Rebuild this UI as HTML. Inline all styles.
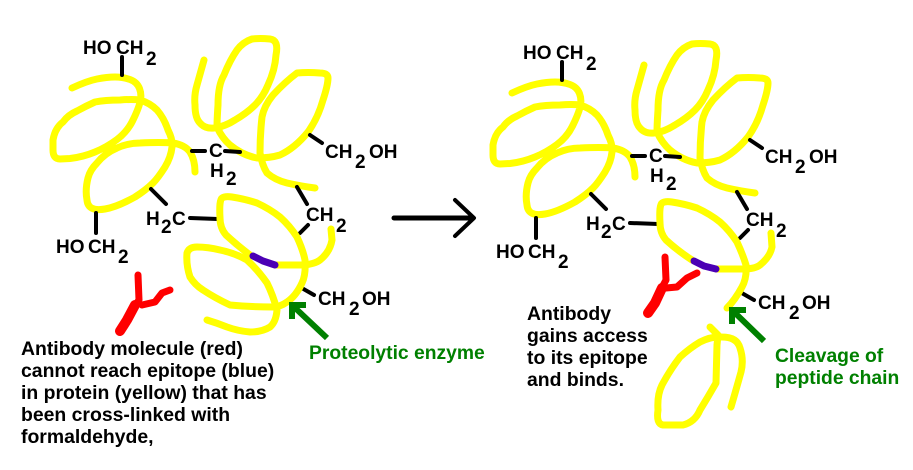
<!DOCTYPE html>
<html><head><meta charset="utf-8"><style>
html,body{margin:0;padding:0;background:#fff;width:913px;height:470px;overflow:hidden}
svg{display:block}
text{font-family:"Liberation Sans",sans-serif;font-weight:bold;font-size:19px;fill:#000}
.t{font-size:19.4px}
.g{fill:#008000;font-size:19.3px}
.y{fill:none;stroke:#ffff00;stroke-width:7;stroke-linecap:round;stroke-linejoin:round}
.k{fill:none;stroke:#000;stroke-width:4;stroke-linecap:round;stroke-linejoin:round}
.r{fill:none;stroke:#ff0000;stroke-width:7;stroke-linecap:round;stroke-linejoin:round}
.b{fill:none;stroke:#4b00b4;stroke-width:7;stroke-linecap:round;stroke-linejoin:round}
.a{fill:none;stroke:#008000;stroke-width:6;stroke-linejoin:miter}
</style></head><body>
<svg width="913" height="470" viewBox="0 0 913 470" xmlns="http://www.w3.org/2000/svg">
<rect width="913" height="470" fill="#fff"/>
<defs>
<g id="top">
<path class="y" d="M72,88 Q87,81 97,79 Q107,77 115,77 Q123,77 130,79.5 Q137,82 139.5,88.5 Q142,95 140,102.5 Q138,110 132.5,121 Q127,132 117,139.5 Q107,147 95,152 Q83,157 70,158.5 L60,159 Q53,159 53,150 L53,140 Q55,128 63,122 Q68,115 77,111 Q86,106 95,102 Q105,100 120,100 Q132,99 140,100 Q150,103 157,110 Q164,118 168,130 Q173,140 172,147 Q171,157 165,167 Q158,178 153,183 Q146,190 135,197 Q117,207 105,209 Q88,212 87,200 Q85,190 88,178 Q90,170 97,163 Q105,153 117,148 Q128,143 140,143 Q160,142 173,143 Q185,145 190,152 Q195,160 195,172"/>
<path class="y" d="M204,60 Q199,78 197,85 Q194,95 195,105 Q195,118 200,123 Q205,129 214,128 Q224,127 235,120 Q247,113 255,105 Q263,97 268,85 Q275,70 276,55 Q279,40 270,39 Q260,38 252,39 Q243,42 237,50 Q230,60 224,75 Q218,85 218,105 Q217,120 217,127 Q222,138 230,145 Q242,155 257,158 Q270,158 280,155 Q295,148 308,132 Q318,118 323,100 Q328,85 328,78 Q328,73 320,73 Q308,72 297,73 Q285,82 273,95 Q264,106 262,117 Q260,135 260,153 Q262,165 267,173 Q275,180 287,183 Q300,186 315,188"/>
<polyline class="k" points="122,57 122,75"/>
<polyline class="k" points="192,151 205,151"/>
<polyline class="k" points="225,151 240,152"/>
<polyline class="k" points="310,135 322,143"/>
<polyline class="k" points="96,213 96,233"/>
<polyline class="k" points="151,189 166,204"/>
<polyline class="k" points="190,218 218,219"/>
<polyline class="k" points="297,187 307,204"/>
<polyline class="k" points="300,233 308,225"/>
<polyline class="k" points="300,287 314,295"/>
</g>
</defs>

<use href="#top"/>
<path class="y" d="M220,218 Q219,200 222,198 Q225,196 232,197 Q245,199 257,203 Q270,209 280,217 Q290,226 297,237 Q303,250 305,260 Q306,275 302,283 Q296,296 287,302 Q280,307 273,307 Q250,307 230,305 Q215,298 203,290 Q195,285 190,277 Q186,265 187,253 Q189,247 197,247 Q208,247 220,250 Q235,253 247,260 Q258,270 267,283 Q273,295 277,310 Q276,322 270,327 Q262,332 250,332 Q238,331 227,327 Q217,323 207,320"/>
<path class="y" d="M220,218 Q220,228 226,235 Q238,246 250,255"/>
<path class="y" d="M277,265 L303,265 Q315,264 320,260 Q330,252 332,240 L331,229"/>
<polyline class="b" points="253,256 263,261 275,265"/>
<polyline class="r" points="138,275 139,300 130,313"/>
<polyline class="r" style="stroke-width:10" points="135,305 127,320 120,331"/>
<polyline class="r" points="170,290 162,293 155,302 142,305"/>
<polyline class="a" points="327,338 292,305"/>
<polyline class="a" points="306,305 292,305 292,319"/>
<polyline class="k" style="stroke-width:5" points="394,218 472,218"/>
<polyline class="k" points="455,200 474,218 455,236"/>

<text x="83" y="54">HO</text><text x="116" y="54">CH</text><text x="146" y="65">2</text>
<text x="209" y="157">C</text><text x="210" y="177">H</text><text x="226" y="185">2</text>
<text x="325" y="158">CH</text><text x="355" y="168">2</text><text x="369" y="158">OH</text>
<text x="146" y="225">H</text><text x="161" y="233">2</text><text x="172" y="225">C</text>
<text x="56" y="253">HO</text><text x="88" y="253">CH</text><text x="118" y="263">2</text>
<text x="306" y="221">CH</text><text x="336" y="232">2</text>
<text x="318" y="305">CH</text><text x="349" y="315">2</text><text x="362" y="305">OH</text>

<text class="t" x="21" y="355">Antibody molecule (red)</text>
<text class="t" x="21" y="377">cannot reach epitope (blue)</text>
<text class="t" x="21" y="399">in protein (yellow) that has</text>
<text class="t" x="21" y="421">been cross-linked with</text>
<text class="t" x="21" y="443">formaldehyde,</text>
<text class="g" x="309" y="359">Proteolytic enzyme</text>

<use href="#top" x="440" y="5"/>
<path class="y" d="M660,223 Q659,205 662,203 Q665,201 672,202 Q685,204 697,208 Q710,214 720,222 Q730,231 737,242 Q743,255 746,265 Q747,278 742,287 Q735,300 727,308"/>
<path class="y" d="M660,223 Q660,233 666,240 Q678,251 692,260"/>
<path class="y" d="M717,269 L743,269 Q755,269 760,265 Q770,257 772,247 L771,233"/>
<polyline class="b" points="694,261 704,266 716,269"/>
<path class="y" d="M710,327 L718,335 L717,345 L716,383 Q708,397 700,410 Q695,422 683,425 L663,425 Q656,424 658,410 Q657,395 662,385 Q670,370 680,357 Q690,348 700,342 Q712,336 722,337 Q737,337 740,348 Q744,360 741,372 Q736,390 731,407"/>
<polyline class="r" points="665,257 666,280 658,295"/>
<polyline class="r" style="stroke-width:10" points="662,288 655,303 648,313"/>
<polyline class="r" points="697,273 687,278 677,287 666,288"/>
<polyline class="a" points="764,341 732,310"/>
<polyline class="a" points="746,310 732,310 732,324"/>

<text x="523" y="59">HO</text><text x="556" y="59">CH</text><text x="586" y="70">2</text>
<text x="649" y="162">C</text><text x="650" y="182">H</text><text x="666" y="190">2</text>
<text x="765" y="163">CH</text><text x="795" y="173">2</text><text x="809" y="163">OH</text>
<text x="586" y="230">H</text><text x="601" y="238">2</text><text x="612" y="230">C</text>
<text x="496" y="258">HO</text><text x="528" y="258">CH</text><text x="558" y="268">2</text>
<text x="746" y="226">CH</text><text x="776" y="237">2</text>
<text x="758" y="309">CH</text><text x="789" y="319">2</text><text x="802" y="309">OH</text>

<text class="t" x="527" y="320">Antibody</text>
<text class="t" x="527" y="342">gains access</text>
<text class="t" x="527" y="364">to its epitope</text>
<text class="t" x="527" y="386">and binds.</text>
<text class="g" x="775" y="362">Cleavage of</text>
<text class="g" x="775" y="384">peptide chain</text>
</svg>
</body></html>
